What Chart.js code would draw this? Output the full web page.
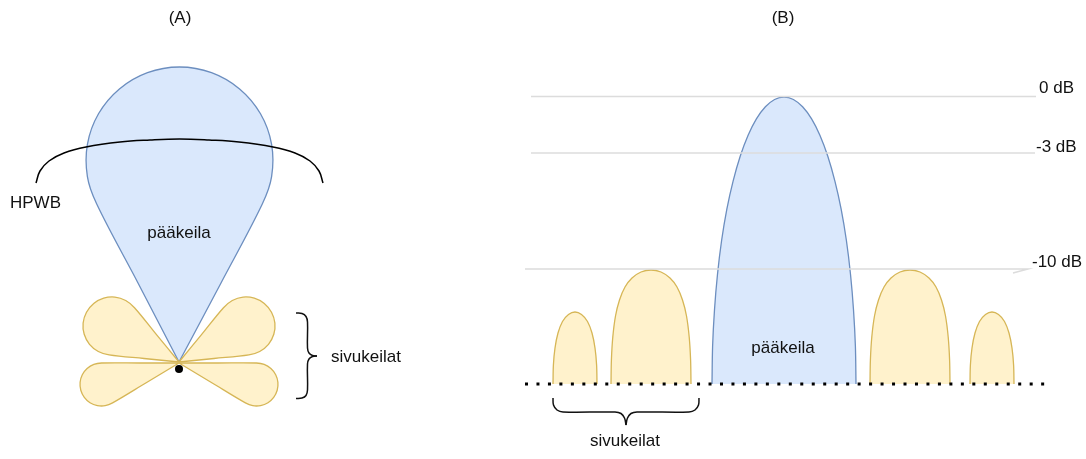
<!DOCTYPE html>
<html>
<head>
<meta charset="utf-8">
<script src="https://cdn.jsdelivr.net/npm/chart.js@4.4.1/dist/chart.umd.min.js"></script>
<style>
html,body{margin:0;padding:0;background:#ffffff;}
#wrap{width:1086px;height:459px;}
</style>
</head>
<body>
<div id="wrap"><canvas id="c" width="1086" height="459"></canvas></div>
<script>
// ---------- Panel A (polar sketch) : outline points ----------
const mainLobeA = [[179,362],[221,283],[262.4,203.8],[271.6,176.7],[271.6,144.3],[260.5,113.75],[239.6,88.9],[211.5,72.6],[179.5,67],[147.5,72.6],[119.4,88.9],[98.5,113.75],[87.4,144.3],[87.4,176.7],[96.6,203.8],[138,283],[179,362]];
const hpwbArc = [[36,183],[40,171],[49,161],[64,153],[86,147],[120,142],[150,140],[179.5,139],[209,140],[239,142],[273,147],[295,153],[310,161],[319,171],[323,183]];
const sideLobeUpperLeft = [[179,362],[156.7,334.9],[134.5,307.7],[125.7,300.5],[114.9,297.1],[103.7,298.2],[93.7,303.5],[86.5,312.3],[83.1,323.1],[84.2,334.3],[89.5,344.3],[98.3,351.5],[109.1,354.9],[144,358.5],[179,362]];
const sideLobeUpperRight = [[179,362],[201.3,334.9],[223.5,307.7],[232.3,300.5],[243.1,297.1],[254.3,298.2],[264.3,303.5],[271.5,312.3],[274.9,323.1],[273.8,334.3],[268.5,344.3],[259.7,351.5],[248.9,354.9],[214,358.5],[179,362]];
const sideLobeLowerLeft = [[179,363],[140,363],[101.5,363],[93.8,364.4],[87.1,368.6],[82.3,374.8],[80.1,382.4],[80.8,390.3],[84.3,397.4],[90,402.7],[97.4,405.6],[105.2,405.7],[112.6,402.9],[145.8,383],[179,363]];
const sideLobeLowerRight = [[179,363],[218,363],[256.5,363],[264.2,364.4],[270.9,368.6],[275.7,374.8],[277.9,382.4],[277.2,390.3],[273.7,397.4],[268,402.7],[260.6,405.6],[252.8,405.7],[245.4,402.9],[212.2,383],[179,363]];
const originA = [[179,369]];
const braceAUpper = [[296,313],[302,313.5],[306,316.5],[307.5,322],[307.5,348],[309,353],[312.5,355.5],[317,356]];
const braceALower = [[317,356],[312.5,356.5],[309,359],[307.5,364],[307.5,390],[306,395.5],[302,398],[296,398.5]];

// ---------- Panel B (rectangular sketch) ----------
const mainLobeB = [[712,384],[712.6,346.5],[714.5,309.7],[717.5,274.3],[721.6,240.5],[726.8,209.3],[733.1,181.1],[740.2,156.3],[748,135.5],[756.4,118.9],[765.4,106.8],[774.6,99.5],[784,97],[793.4,99.5],[802.6,106.8],[811.6,118.9],[820,135.5],[827.8,156.3],[834.9,181.1],[841.2,209.3],[846.4,240.5],[850.5,274.3],[853.5,309.7],[855.4,346.5],[856,384]];
const sideLobeB1 = [[553,384],[553.4,365],[555,348],[558,333],[562.5,321.5],[568.5,314.5],[575,312],[581.5,314.5],[587.5,321.5],[592,333],[595,348],[596.6,365],[597,384]];
const sideLobeB2 = [[611,384],[611.4,360],[612.8,337],[615.5,316],[619.5,300],[625,287],[632,278],[641,272],[651,270],[661,272],[670,278],[677,287],[682.5,300],[686.5,316],[689.2,337],[690.6,360],[691,384]];
const sideLobeB3 = [[870,384],[870.4,360],[871.8,337],[874.5,316],[878.5,300],[884,287],[891,278],[900,272],[910,270],[920,272],[929,278],[936,287],[941.5,300],[945.5,316],[948.2,337],[949.6,360],[950,384]];
const sideLobeB4 = [[970,384],[970.4,365],[972,348],[975,333],[979.5,321.5],[985.5,314.5],[992,312],[998.5,314.5],[1004.5,321.5],[1009,333],[1012,348],[1013.6,365],[1014,384]];
const level0dB = [[531,96.5],[1036,96.5]];
const level3dB = [[531,153],[1035,153]];
const level10dB = [[525,269],[1028,269],[1013,273]];
const baselineB = [[525,384],[1045,384]];
const braceBLeft = [[553,398],[553.5,405],[557,410],[563,412],[615,412],[621,413.5],[624.5,418],[626,425]];
const braceBRight = [[626,425],[627.5,418],[631,413.5],[637,412],[689,412],[695,410],[698.5,405],[699,398]];

// ---------- Text labels ----------
const labelTexts = ['(A)','(B)','HPWB','pääkeila','sivukeilat','0 dB','-3 dB','-10 dB','pääkeila','sivukeilat'];
const labelX = [180,783,10,179,331,1039,1036,1032,783,625];
const labelY = [18,18,203,233,357,88,147,262,348,441];
const labelAlign = ['center','center','left','center','left','left','left','left','center','center'];

const BLUE_FILL = '#dae8fc', BLUE_LINE = '#6c8ebf';
const YEL_FILL = '#fff2cc', YEL_LINE = '#d6b656';
const GRID = '#dcdcdc';

const toXY = a => a.map(p => ({x: p[0], y: p[1]}));

function shape(pts, fillColor, lineColor, order, extra) {
  return Object.assign({
    data: toXY(pts), showLine: true, pointRadius: 0, borderWidth: 1.3,
    borderColor: lineColor, backgroundColor: fillColor, fill: 'shape',
    tension: 0.35, order: order, borderJoinStyle: 'round'
  }, extra || {});
}
function line(pts, color, width, order, extra) {
  return Object.assign({
    data: toXY(pts), showLine: true, pointRadius: 0, borderWidth: width,
    borderColor: color, backgroundColor: color, fill: false,
    tension: 0, order: order
  }, extra || {});
}

const textPlugin = {
  id: 'diagramText',
  afterDatasetsDraw(chart) {
    const ctx = chart.ctx;
    const xs = chart.scales.x, ys = chart.scales.y;
    ctx.save();
    ctx.font = '17px "Liberation Sans", Arial, sans-serif';
    ctx.fillStyle = '#111111';
    ctx.textBaseline = 'middle';
    labelTexts.forEach((t, i) => {
      ctx.textAlign = labelAlign[i];
      ctx.fillText(t, xs.getPixelForValue(labelX[i]), ys.getPixelForValue(labelY[i]));
    });
    ctx.restore();
  }
};

const datasets = [
  // panel A
  shape(mainLobeA, BLUE_FILL, BLUE_LINE, 20),
  line(hpwbArc, '#000000', 1.5, 10, {tension: 0.4}),
  shape(sideLobeUpperLeft, YEL_FILL, YEL_LINE, 15),
  shape(sideLobeUpperRight, YEL_FILL, YEL_LINE, 15),
  shape(sideLobeLowerLeft, YEL_FILL, YEL_LINE, 16),
  shape(sideLobeLowerRight, YEL_FILL, YEL_LINE, 16),
  {data: toXY(originA), showLine: false, pointRadius: 4, pointBackgroundColor: '#000', pointBorderWidth: 0, order: 1},
  line(braceAUpper, '#111111', 1.5, 5, {tension: 0.4}),
  line(braceALower, '#111111', 1.5, 5, {tension: 0.4}),
  // panel B
  shape(mainLobeB, BLUE_FILL, BLUE_LINE, 20),
  shape(sideLobeB1, YEL_FILL, YEL_LINE, 20),
  shape(sideLobeB2, YEL_FILL, YEL_LINE, 20),
  shape(sideLobeB3, YEL_FILL, YEL_LINE, 20),
  shape(sideLobeB4, YEL_FILL, YEL_LINE, 20),
  line(level0dB, GRID, 1.5, 8),
  line(level3dB, GRID, 1.5, 8),
  line(level10dB, GRID, 1.5, 8),
  line(baselineB, '#000000', 3, 2, {borderDash: [3, 8.47], borderCapStyle: 'butt'}),
  line(braceBLeft, '#111111', 1.5, 5, {tension: 0.4}),
  line(braceBRight, '#111111', 1.5, 5, {tension: 0.4})
];

new Chart(document.getElementById('c'), {
  type: 'scatter',
  data: {datasets: datasets},
  options: {
    responsive: false,
    animation: false,
    events: [],
    layout: {padding: 0, autoPadding: false},
    plugins: {legend: {display: false}, tooltip: {enabled: false}, title: {display: false}},
    scales: {
      x: {type: 'linear', min: 0, max: 1086, display: false},
      y: {type: 'linear', min: 0, max: 459, reverse: true, display: false}
    }
  },
  plugins: [textPlugin]
});
</script>
</body>
</html>
